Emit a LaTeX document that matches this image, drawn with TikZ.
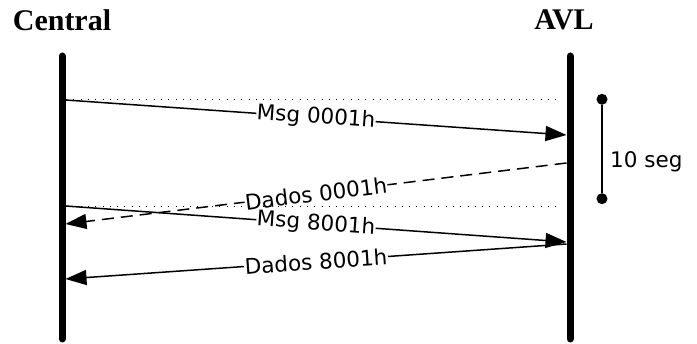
\documentclass[tikz,border=0pt]{standalone}
\usepackage{fontspec}
\setmainfont{Liberation Serif}
\newfontfamily\lblfont{DejaVu Sans}
\usetikzlibrary{arrows.meta}

\begin{document}
\begin{tikzpicture}[x=1pt, y=-1pt, lifeline/.style = {line width=7pt, line cap=round}, msg/.style = {line width=1.5pt, -{Triangle[length=21pt, width=15pt]}}, reply/.style = {msg, dash pattern=on 12pt off 7pt}, guide/.style = {line width=0.8pt, dash pattern=on 1pt off 6.3pt}, lbl/.style = {font=\lblfont\fontsize{21.5}{22}\selectfont, fill=white, inner sep=0.5pt, sloped}, title/.style = {font=\bfseries\fontsize{30}{30}\selectfont}, dot/.style = {circle, fill, inner sep=0pt, minimum size=11pt}]
	\useasboundingbox (0,0) rectangle (697,344);
	% titles
	\node[title] (central) at (62,20) {Central};
	\node[title] (avl) at (564,20) {AVL};
	% lifelines
	\coordinate (ctop) at (62,56); \coordinate (cbot) at (62,339);
	\coordinate (atop) at (570,56); \coordinate (abot) at (570,339);
	\draw[lifeline] (ctop) -- (cbot);
	\draw[lifeline] (atop) -- (abot);
	% message ends
	\coordinate (c1) at (65.5,100); \coordinate (a1) at (566.5,135);
	\coordinate (a2) at (566.5,163); \coordinate (c2) at (65.5,224);
	\coordinate (c3) at (65.5,206); \coordinate (a3) at (566.5,242);
	\coordinate (a4) at (566.5,244); \coordinate (c4) at (65.5,279);
	\draw[msg] (c1) -- node[lbl, pos=0.5]{Msg 0001h} (a1);
	\draw[reply] (a2) -- node[lbl, pos=0.5]{Dados 0001h} (c2);
	\draw[msg] (c3) -- node[lbl, pos=0.5]{Msg 8001h} (a3);
	\draw[msg] (a4) -- node[lbl, pos=0.5]{Dados 8001h} (c4);
	% guides
	\coordinate (g1l) at (66,99.3); \coordinate (g1r) at (561,99.3);
	\coordinate (g2l) at (66,206.3); \coordinate (g2r) at (562,206.3);
	\draw[guide] (g1l) -- (g1r);
	\draw[guide] (g2l) -- (g2r);
	% interval
	\node[dot] (t1) at (602,99.3) {};
	\node[dot] (t2) at (602,198.7) {};
	\draw[line width=1.3pt] (t1) -- (t2);
	\node[font=\lblfont\fontsize{21.5}{22}\selectfont, anchor=west, inner sep=0pt] (dur) at (610,162) {10 seg};
\end{tikzpicture}
\end{document}
